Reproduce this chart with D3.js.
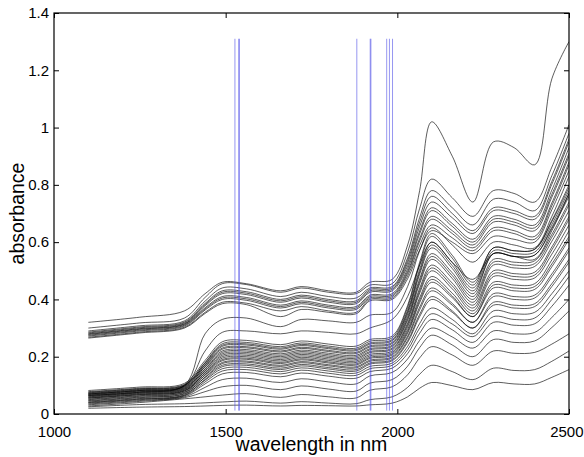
<!DOCTYPE html>
<html>
<head>
<meta charset="utf-8">
<script src="https://cdn.jsdelivr.net/npm/d3@7"></script>
<style>
  body { margin: 0; background: #fff; }
  svg { display: block; }
  text { font-family: "Liberation Sans", Arial, Helvetica, sans-serif; fill: #000; }
</style>
</head>
<body>
<script>
// chart size and plot box
const width = 584;
const height = 457;
const margin = { top: 13, right: 15, bottom: 43, left: 54 };

const wavelengths = [1100, 1250, 1380, 1440, 1490, 1560, 1660, 1720, 1800, 1880, 1920,
                     1985, 2030, 2065, 2100, 2160, 2220, 2280, 2340, 2400, 2450, 2500];

// absorbance of each spectrum, top to bottom
const spectra = [
  [.320,.338,.360,.420,.460,.455,.430,.445,.430,.425,.460,.470,.590,.780,1.020,.900,.740,.950,.930,.870,1.170,1.300],
  [.300,.318,.335,.407,.455,.452,.425,.440,.425,.420,.450,.455,.565,.718,.820,.755,.690,.780,.770,.740,.862,1.010],
  [.290,.308,.325,.394,.440,.437,.410,.425,.410,.405,.440,.445,.545,.686,.780,.720,.660,.750,.740,.710,.832,.980],
  [.286,.304,.321,.386,.430,.427,.400,.415,.400,.395,.435,.440,.536,.670,.760,.700,.640,.720,.710,.690,.812,.960],
  [.283,.301,.318,.382,.425,.422,.395,.410,.395,.390,.430,.435,.527,.655,.740,.685,.630,.710,.700,.680,.802,.950],
  [.280,.298,.315,.378,.420,.417,.390,.405,.390,.385,.425,.430,.517,.639,.720,.665,.610,.690,.680,.660,.782,.930],
  [.278,.296,.313,.371,.410,.407,.380,.395,.380,.375,.415,.420,.507,.629,.710,.655,.600,.680,.670,.650,.767,.910],
  [.275,.293,.310,.367,.405,.402,.375,.390,.375,.370,.410,.415,.498,.613,.690,.640,.590,.670,.660,.640,.757,.900],
  [.272,.290,.307,.363,.400,.397,.370,.385,.370,.365,.405,.410,.491,.604,.680,.630,.580,.650,.640,.620,.737,.880],
  [.268,.286,.303,.355,.390,.387,.360,.375,.360,.355,.400,.405,.482,.589,.660,.615,.570,.640,.630,.610,.727,.870],
  [.265,.283,.300,.351,.385,.382,.340,.365,.355,.350,.395,.400,.472,.573,.640,.600,.560,.620,.610,.600,.713,.850],
  [.065,.076,.100,.280,.330,.335,.305,.330,.325,.320,.345,.355,.445,.570,.650,.590,.530,.600,.590,.580,.690,.830],
  [.070,.082,.098,.220,.285,.290,.280,.290,.285,.280,.300,.330,.410,.520,.600,.530,.470,.560,.550,.540,.640,.770],
  [.082,.094,.107,.187,.252,.257,.242,.255,.244,.237,.260,.272,.379,.530,.630,.554,.460,.580,.570,.575,.676,.800],
  [.076,.088,.101,.180,.245,.250,.235,.248,.237,.230,.254,.266,.372,.521,.620,.544,.450,.580,.570,.575,.672,.790],
  [.078,.090,.103,.178,.240,.245,.230,.243,.232,.225,.248,.260,.362,.505,.600,.528,.440,.570,.560,.565,.662,.780],
  [.072,.084,.097,.173,.236,.241,.226,.239,.228,.221,.244,.256,.356,.496,.590,.518,.430,.560,.550,.555,.652,.770],
  [.074,.086,.099,.171,.230,.235,.220,.233,.222,.215,.238,.250,.349,.488,.580,.508,.420,.560,.550,.555,.647,.760],
  [.068,.080,.093,.166,.226,.231,.216,.229,.218,.211,.234,.246,.340,.472,.560,.493,.410,.540,.530,.535,.627,.740],
  [.070,.082,.095,.164,.220,.225,.210,.223,.212,.205,.228,.240,.333,.463,.550,.483,.400,.530,.520,.525,.617,.730],
  [.064,.076,.089,.158,.215,.220,.205,.218,.207,.200,.224,.236,.327,.455,.540,.473,.390,.520,.510,.515,.603,.710],
  [.066,.078,.091,.156,.210,.215,.200,.213,.202,.195,.218,.230,.317,.439,.520,.457,.380,.500,.490,.495,.583,.690],
  [.060,.072,.085,.151,.205,.210,.195,.208,.197,.190,.214,.226,.311,.430,.510,.447,.370,.490,.480,.485,.573,.680],
  [.062,.074,.087,.149,.200,.205,.190,.203,.192,.185,.208,.220,.304,.422,.500,.437,.360,.480,.470,.475,.558,.660],
  [.056,.068,.081,.144,.195,.200,.185,.198,.187,.180,.203,.215,.295,.406,.480,.422,.350,.460,.450,.455,.538,.640],
  [.058,.070,.083,.142,.190,.195,.180,.193,.182,.175,.198,.210,.288,.397,.470,.412,.340,.450,.440,.445,.524,.620],
  [.052,.064,.077,.137,.186,.191,.176,.189,.178,.171,.194,.206,.282,.389,.460,.406,.340,.440,.430,.435,.514,.610],
  [.055,.067,.080,.135,.180,.185,.170,.183,.172,.165,.188,.200,.272,.373,.440,.386,.320,.420,.410,.415,.489,.580],
  [.047,.059,.072,.129,.176,.181,.166,.179,.168,.161,.184,.196,.266,.364,.430,.380,.320,.410,.400,.405,.479,.570],
  [.050,.062,.075,.127,.170,.175,.160,.173,.162,.155,.178,.190,.256,.348,.410,.360,.300,.390,.380,.385,.455,.540],
  [.042,.054,.067,.121,.165,.170,.155,.168,.157,.150,.174,.186,.250,.340,.400,.355,.300,.380,.370,.375,.445,.530],
  [.045,.057,.070,.118,.158,.163,.148,.161,.150,.143,.166,.178,.236,.316,.370,.330,.280,.360,.350,.355,.420,.500],
  [.040,.052,.065,.112,.150,.155,.140,.153,.142,.135,.158,.170,.224,.300,.350,.314,.270,.340,.330,.335,.400,.480],
  [.038,.050,.063,.105,.140,.145,.130,.143,.132,.125,.148,.160,.211,.282,.330,.294,.250,.320,.310,.315,.376,.450],
  [.035,.047,.060,.093,.120,.125,.110,.123,.112,.105,.133,.145,.192,.257,.300,.269,.230,.290,.280,.285,.337,.400],
  [.032,.044,.057,.078,.095,.100,.085,.098,.087,.080,.108,.120,.167,.232,.275,.241,.200,.260,.250,.255,.302,.360],
  [.028,.040,.053,.060,.066,.071,.058,.068,.060,.056,.083,.095,.137,.196,.235,.206,.170,.220,.212,.215,.244,.280],
  [.025,.033,.036,.039,.042,.045,.038,.043,.038,.036,.050,.060,.093,.139,.170,.148,.120,.160,.152,.155,.184,.220],
  [.020,.024,.026,.028,.030,.031,.028,.030,.029,.028,.032,.038,.060,.090,.110,.099,.085,.110,.105,.105,.128,.155]
];

// selected wavelengths marked with vertical lines
const bandWavelengths = [1527, 1538, 1540, 1882, 1921, 1923, 1969, 1977, 1986];
const bandFrom = 0.012;
const bandTo = 1.31;

// axis ticks
const xTicks = [1000, 1500, 2000, 2500];
const yTicks = [0, 0.2, 0.4, 0.6, 0.8, 1, 1.2, 1.4];

const x = d3.scaleLinear().domain([1000, 2500]).range([margin.left, width - margin.right]);
const y = d3.scaleLinear().domain([0, 1.4]).range([height - margin.bottom, margin.top]);

const svg = d3.select("body").append("svg")
    .attr("width", width)
    .attr("height", height);

svg.append("clipPath").attr("id", "plot")
  .append("rect")
    .attr("x", margin.left).attr("y", margin.top)
    .attr("width", x.range()[1] - margin.left)
    .attr("height", y.range()[0] - margin.top);

const line = d3.line()
    .x((d, i) => x(wavelengths[i]))
    .y(d => y(d))
    .curve(d3.curveCatmullRom.alpha(0.5));

// spectra
svg.append("g")
    .attr("clip-path", "url(#plot)")
  .selectAll("path")
  .data(spectra)
  .join("path")
    .attr("d", line)
    .attr("fill", "none")
    .attr("stroke", "#000")
    .attr("stroke-opacity", 0.8)
    .attr("stroke-width", 0.8);

// vertical marker lines
svg.append("g")
  .selectAll("line")
  .data(bandWavelengths)
  .join("line")
    .attr("x1", d => x(d)).attr("x2", d => x(d))
    .attr("y1", y(bandFrom)).attr("y2", y(bandTo))
    .attr("stroke", "#5050e8")
    .attr("stroke-opacity", 0.6)
    .attr("stroke-width", 1);

// axes, MATLAB style: ticks inside on all four sides
const fontSize = 15;

const gx = svg.append("g")
    .attr("transform", `translate(0,${y(0)})`)
    .call(d3.axisBottom(x).tickValues(xTicks).tickFormat(d3.format("d")).tickSize(-5).tickPadding(12));
const gy = svg.append("g")
    .attr("transform", `translate(${x(1000)},0)`)
    .call(d3.axisLeft(y).tickValues(yTicks).tickFormat(d => d).tickSize(-5).tickPadding(5));
const gxTop = svg.append("g")
    .attr("transform", `translate(0,${y(1.4)})`)
    .call(d3.axisTop(x).tickValues(xTicks).tickFormat("").tickSize(-5));
const gyRight = svg.append("g")
    .attr("transform", `translate(${x(2500)},0)`)
    .call(d3.axisRight(y).tickValues(yTicks).tickFormat("").tickSize(-5));

[gx, gy, gxTop, gyRight].forEach(g => {
  g.select(".domain").remove();
  g.selectAll(".tick line").attr("stroke", "#000").attr("stroke-width", 1);
  g.selectAll("text")
    .attr("font-size", fontSize)
    .attr("font-family", "'Liberation Sans', Arial, Helvetica, sans-serif")
    .attr("fill", "#000");
});

// the last x label sits against the page edge, as in the original
gx.selectAll(".tick").filter(d => d === 2500).select("text")
    .attr("text-anchor", "end")
    .attr("x", width - 1 - x(2500));

// frame
svg.append("rect")
    .attr("x", x(1000)).attr("y", y(1.4))
    .attr("width", x(2500) - x(1000))
    .attr("height", y(0) - y(1.4))
    .attr("fill", "none")
    .attr("stroke", "#000")
    .attr("stroke-width", 1.2);

// axis titles
svg.append("text")
    .attr("x", (x(1000) + x(2500)) / 2)
    .attr("y", 451)
    .attr("text-anchor", "middle")
    .attr("font-size", 19.5)
    .text("wavelength in nm");

svg.append("text")
    .attr("transform", `translate(24,${(y(0) + y(1.4)) / 2}) rotate(-90)`)
    .attr("text-anchor", "middle")
    .attr("font-size", 19.5)
    .text("absorbance");
</script>
</body>
</html>
